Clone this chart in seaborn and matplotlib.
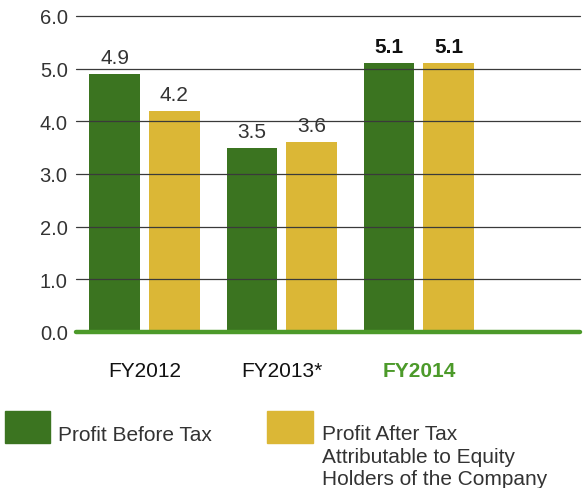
import matplotlib
matplotlib.use("Agg")
import matplotlib.pyplot as plt
import matplotlib.patches as mpatches
import seaborn as sns
import pandas as pd

categories = ["FY2012", "FY2013*", "FY2014"]
profit_before_tax = [4.9, 3.5, 5.1]
profit_after_tax = [4.2, 3.6, 5.1]
series_names = ["Profit Before Tax",
                "Profit After Tax\nAttributable to Equity\nHolders of the Company"]
yticks = [0.0, 1.0, 2.0, 3.0, 4.0, 5.0, 6.0]

sns.set_theme(style="white")
plt.rcParams['font.family'] = ['Liberation Sans', 'DejaVu Sans']

df = pd.DataFrame({
    "year": categories * 2,
    "value": profit_before_tax + profit_after_tax,
    "series": [series_names[0]] * 3 + [series_names[1]] * 3,
})

green = "#3b7420"
yellow = "#dbb736"
accent = "#4c9a2a"
txt = "#333333"
fs = 14.5

fig = plt.figure(figsize=(5.83, 4.89), dpi=100)
ax = fig.add_axes([76/583, 1-333/489, (580-76)/583, (333-17)/489])

sns.barplot(data=df, x="year", y="value", hue="series", order=categories,
            hue_order=series_names, palette=[green, yellow], width=0.87, gap=0.15,
            saturation=1, linewidth=0, edgecolor="none",
            ax=ax, legend=False, zorder=1)

ax.set_ylim(0, 6)
ax.set_xlim(-0.5, 3.175)
ax.set_yticks(yticks)
ax.set_yticklabels([f"{v:.1f}" for v in yticks], fontsize=fs, color=txt)
ax.tick_params(axis="y", length=0, pad=6)
ax.tick_params(axis="x", length=0, pad=21)
for s in ax.spines.values():
    s.set_visible(False)
for v in yticks[1:]:
    ax.axhline(v, color="#3a3a3a", lw=0.9, zorder=3, clip_on=False)
ax.axhline(0, color=accent, lw=3.2, zorder=4, clip_on=False)

ax.set_xlabel("")
ax.set_ylabel("")
for i, t in enumerate(ax.get_xticklabels()):
    t.set_fontsize(15)
    if i == 2:
        t.set_fontweight("bold")
        t.set_color(accent)
    else:
        t.set_color("#111111")

for ci, cont in enumerate(ax.containers):
    labels = [f"{v:.1f}" for v in (profit_before_tax if ci == 0 else profit_after_tax)]
    texts = ax.bar_label(cont, labels=labels, padding=5, fontsize=15, color=txt)
    texts[2].set_fontweight("bold")
    texts[2].set_color("#111111")

# legend
fig.patches.append(mpatches.Rectangle((5/583, 1-444/489), 45/583, 32/489,
                                      transform=fig.transFigure, color=green))
fig.patches.append(mpatches.Rectangle((267/583, 1-444/489), 46/583, 32/489,
                                      transform=fig.transFigure, color=yellow))
fig.text(58/583, 1-436/489, series_names[0], fontsize=15, color=txt, va="center")
fig.text(322/583, 1-425/489, series_names[1], fontsize=15, color=txt, va="top",
         linespacing=1.25)

fig.savefig("out.png", dpi=100)
